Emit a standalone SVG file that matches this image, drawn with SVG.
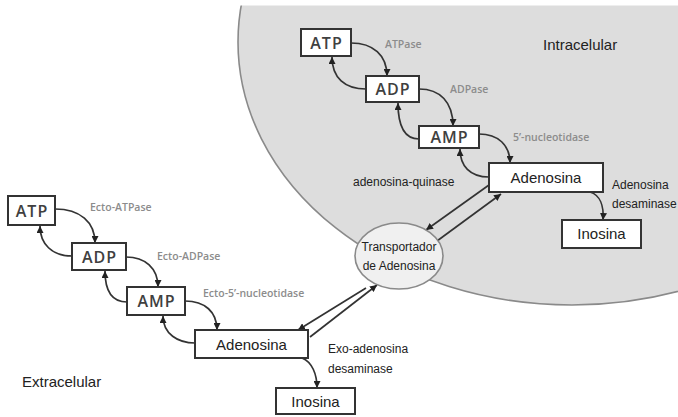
<svg xmlns="http://www.w3.org/2000/svg" width="678" height="417" viewBox="0 0 678 417">
  <style>
    .box { fill: #ffffff; stroke: #333333; stroke-width: 2; }
    .nuc { font-family: "Open Sans", "Liberation Sans", sans-serif; font-size: 16px; font-weight: 600; fill: #404040; text-anchor: middle; letter-spacing: 1px; }
    .mol { font-family: "Liberation Sans", Arial, sans-serif; font-size: 15px; fill: #222222; text-anchor: middle; }
    .enz { font-family: "Open Sans", "Liberation Sans", sans-serif; font-size: 10.5px; font-weight: 600; fill: #8c8c8c; }
    .lbl { font-family: "Liberation Sans", Arial, sans-serif; font-size: 12px; fill: #222222; }
    .reg { font-family: "Liberation Sans", Arial, sans-serif; font-size: 15px; fill: #222222; }
    .arc { fill: none; stroke: #333333; stroke-width: 1.7; marker-end: url(#ah); }
  </style>
  <defs>
    <marker id="ah" viewBox="0 0 10 10" refX="10" refY="5" markerWidth="7" markerHeight="7" markerUnits="userSpaceOnUse" orient="auto">
      <path d="M0,0 L10,5 L0,10 z" fill="#222222"/>
    </marker>
  </defs>
  <rect x="0" y="0" width="678" height="417" fill="#ffffff"/>

  <!-- cell -->
  <g id="cell">
    <ellipse cx="572" cy="42" rx="334" ry="263" fill="#dddddd" stroke="#8a8a8a" stroke-width="1.6"/>
    <rect x="0" y="0" width="678" height="5.5" fill="#ffffff"/>
  </g>

  <!-- region labels -->
  <text class="reg" x="543" y="50">Intracelular</text>
  <text class="reg" x="22" y="387">Extracelular</text>

  <!-- connectors -->
  <g id="connectors">
    <!-- intracellular -->
    <path class="arc" d="M351 43 C373 43 387 55 387 76"/>
    <path class="arc" d="M366 89 C345 89 332 78 332 57"/>
    <path class="arc" d="M419 89 C440 89 453 102 453 126"/>
    <path class="arc" d="M419 139 C405 139 398 126 398 103"/>
    <path class="arc" d="M479 134 C498 134 510 145 510 163"/>
    <path class="arc" d="M489 177 C470 177 460 166 460 149"/>
    <path class="arc" d="M590 192 C600 195 604 206 603 220"/>
    <path class="arc" d="M489 185 L426 230"/>
    <path class="arc" d="M437 241 L501 194"/>
    <!-- extracellular -->
    <path class="arc" d="M55 209 C80 209 95 222 95 243"/>
    <path class="arc" d="M72 256 C52 256 40 244 40 226"/>
    <path class="arc" d="M126 257 C145 257 158 268 158 287"/>
    <path class="arc" d="M127 302 C112 302 105 291 105 271"/>
    <path class="arc" d="M185 301 C205 301 217 312 217 330"/>
    <path class="arc" d="M195 343 C178 343 163 334 163 316"/>
    <path class="arc" d="M302 358 C312 362 317 374 317 388"/>
    <path class="arc" d="M366 288 L298 330"/>
    <path class="arc" d="M310 337 L377 285"/>
  </g>

  <!-- intracellular nodes -->
  <g id="atp-in"><rect class="box" x="301" y="29" width="50" height="27"/><text class="nuc" x="326.5" y="48.5">ATP</text></g>
  <g id="adp-in"><rect class="box" x="366" y="76" width="53" height="26"/><text class="nuc" x="393" y="95">ADP</text></g>
  <g id="amp-in"><rect class="box" x="419" y="126" width="60" height="22"/><text class="nuc" x="449.5" y="143">AMP</text></g>
  <g id="adenosina-in"><rect class="box" x="489" y="163" width="114" height="29"/><text class="mol" x="546" y="183">Adenosina</text></g>
  <g id="inosina-in"><rect class="box" x="562" y="220" width="79" height="28"/><text class="mol" x="601.5" y="239">Inosina</text></g>

  <!-- transporter -->
  <g id="transportador">
    <ellipse cx="399" cy="256" rx="44" ry="33" fill="#f0f0f0" stroke="#8a8a8a" stroke-width="1.6"/>
    <text class="lbl" x="399" y="251" text-anchor="middle">Transportador</text>
    <text class="lbl" x="399" y="270" text-anchor="middle">de Adenosina</text>
  </g>

  <!-- extracellular nodes -->
  <g id="atp-ex"><rect class="box" x="8" y="196" width="47" height="29"/><text class="nuc" x="32" y="216.5">ATP</text></g>
  <g id="adp-ex"><rect class="box" x="72" y="243" width="54" height="27"/><text class="nuc" x="99.5" y="262.5">ADP</text></g>
  <g id="amp-ex"><rect class="box" x="127" y="287" width="58" height="28"/><text class="nuc" x="156.5" y="307">AMP</text></g>
  <g id="adenosina-ex"><rect class="box" x="195" y="330" width="113" height="28"/><text class="mol" x="251.5" y="350">Adenosina</text></g>
  <g id="inosina-ex"><rect class="box" x="276" y="388" width="79" height="26"/><text class="mol" x="315.5" y="407">Inosina</text></g>

  <!-- enzyme labels -->
  <text class="enz" x="385" y="48">ATPase</text>
  <text class="enz" x="450" y="93">ADPase</text>
  <text class="enz" x="513" y="141">5’-nucleotidase</text>
  <text class="lbl" x="353" y="186">adenosina-quinase</text>
  <text class="lbl" x="612" y="189">Adenosina</text>
  <text class="lbl" x="612" y="208">desaminase</text>
  <text class="enz" x="90" y="211">Ecto-ATPase</text>
  <text class="enz" x="157" y="260">Ecto-ADPase</text>
  <text class="enz" x="203" y="297">Ecto-5’-nucleotidase</text>
  <text class="lbl" x="328" y="353">Exo-adenosina</text>
  <text class="lbl" x="328" y="373">desaminase</text>
</svg>
